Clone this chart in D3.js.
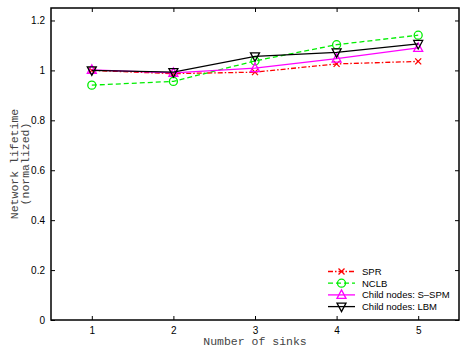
<!DOCTYPE html>
<html><head><meta charset="utf-8">
<script src="https://cdn.jsdelivr.net/npm/d3@7"></script>
<style>body{margin:0;background:#fff}svg{display:block}</style>
</head><body>
<script>
const sinks = [1, 2, 3, 4, 5];
const spr = [1.0, 0.987, 0.993, 1.026, 1.036];
const nclb = [0.941, 0.956, 1.038, 1.103, 1.141];
const sspm = [1.002, 0.99, 1.009, 1.047, 1.09];
const lbm = [1.0, 0.993, 1.056, 1.072, 1.106];
const yTicks = [0, 0.2, 0.4, 0.6, 0.8, 1, 1.2];
const seriesNames = ["SPR", "NCLB", "Child nodes: S\u2013SPM", "Child nodes: LBM"];

const W = 460, H = 348;
const m = {l: 51, r: 1, t: 8, b: 28};
const svg = d3.select("body").append("svg").attr("width", W).attr("height", H);
const x = d3.scaleLinear().domain([0.5, 5.5]).range([m.l, W - m.r]);
const y = d3.scaleLinear().domain([0, 1.25]).range([H - m.b, m.t]);

const tickFont = "'Liberation Sans', Arial, sans-serif";
const gx = svg.append("g").attr("transform", `translate(0,${H - m.b})`)
  .call(d3.axisBottom(x).tickValues(sinks).tickFormat(d3.format("d")).tickSizeInner(-4).tickSizeOuter(0).tickPadding(7));
const gxt = svg.append("g").attr("transform", `translate(0,${m.t})`)
  .call(d3.axisTop(x).tickValues(sinks).tickFormat("").tickSizeInner(-4).tickSizeOuter(0));
const gy = svg.append("g").attr("transform", `translate(${m.l},0)`)
  .call(d3.axisLeft(y).tickValues(yTicks).tickFormat(d => d === 0 || d === 1 ? d3.format("d")(d) : d3.format(".1f")(d)).tickSizeInner(-4).tickSizeOuter(0).tickPadding(6));
const gyr = svg.append("g").attr("transform", `translate(${W - m.r},0)`)
  .call(d3.axisRight(y).tickValues(yTicks).tickFormat("").tickSizeInner(-4).tickSizeOuter(0));
[gx, gxt, gy, gyr].forEach(g => {
  g.select(".domain").remove();
  g.selectAll("line").attr("stroke", "#000").attr("stroke-width", 1);
  g.selectAll("text").attr("font-family", tickFont).attr("font-size", 10).attr("fill", "#000");
});
svg.append("rect").attr("x", m.l).attr("y", m.t).attr("width", W - m.r - m.l).attr("height", H - m.b - m.t)
  .attr("fill", "none").attr("stroke", "#000").attr("stroke-width", 1.5);

const labFont = "'Liberation Mono', 'DejaVu Sans Mono', monospace";
svg.append("text").attr("x", (x(0.5) + x(5.5)) / 2).attr("y", 345).attr("text-anchor", "middle")
  .attr("font-family", labFont).attr("font-size", 11.5).attr("fill", "#444").text("Number of sinks");
const yl = svg.append("text").attr("transform", `translate(0,${(y(0) + y(1.25)) / 2}) rotate(-90)`)
  .attr("text-anchor", "middle").attr("font-family", labFont).attr("font-size", 11.5).attr("fill", "#444");
yl.append("tspan").attr("x", 0).attr("y", 17.5).text("Network lifetime");
yl.append("tspan").attr("x", 0).attr("y", 28.5).text("(normalized)");

const series = [
  {vals: spr, color: "#ff0000", dash: "5,2,1.5,2", marker: "x"},
  {vals: nclb, color: "#00ee00", dash: "5,3", marker: "o"},
  {vals: sspm, color: "#ff00ff", dash: null, marker: "tri"},
  {vals: lbm, color: "#000000", dash: null, marker: "tridown"}
];

function drawMarker(g, type, cx, cy, color) {
  if (type === "x") {
    const s = 3;
    g.append("path").attr("d", `M${cx - s},${cy - s}L${cx + s},${cy + s}M${cx - s},${cy + s}L${cx + s},${cy - s}`)
      .attr("stroke", color).attr("stroke-width", 1.3).attr("fill", "none");
  } else if (type === "o") {
    g.append("circle").attr("cx", cx).attr("cy", cy).attr("r", 4)
      .attr("stroke", color).attr("stroke-width", 1.3).attr("fill", "none");
  } else if (type === "tri") {
    g.append("path").attr("d", `M${cx},${cy - 5}L${cx + 4.5},${cy + 3.5}L${cx - 4.5},${cy + 3.5}Z`)
      .attr("stroke", color).attr("stroke-width", 1.3).attr("fill", "none");
  } else {
    g.append("path").attr("d", `M${cx},${cy + 5}L${cx + 4.5},${cy - 3.5}L${cx - 4.5},${cy - 3.5}Z`)
      .attr("stroke", color).attr("stroke-width", 1.3).attr("fill", "none");
  }
}

const line = d3.line().x((d, i) => x(sinks[i])).y(d => y(d));
series.forEach(s => {
  const g = svg.append("g");
  g.append("path").datum(s.vals).attr("d", line).attr("fill", "none")
    .attr("stroke", s.color).attr("stroke-width", 1.3).attr("stroke-dasharray", s.dash);
  s.vals.forEach((v, i) => drawMarker(g, s.marker, x(sinks[i]), y(v), s.color));
});

const lg = svg.append("g");
series.forEach((s, i) => {
  const ly = 271.5 + i * 11.7;
  lg.append("line").attr("x1", 328).attr("x2", 355).attr("y1", ly).attr("y2", ly)
    .attr("stroke", s.color).attr("stroke-width", 1.3).attr("stroke-dasharray", s.dash);
  drawMarker(lg, s.marker, 341.5, ly, s.color);
  lg.append("text").attr("x", 362).attr("y", ly + 3.5).attr("font-family", tickFont).attr("font-size", 9.5)
    .attr("fill", "#000").text(seriesNames[i]);
});
</script>
</body></html>
